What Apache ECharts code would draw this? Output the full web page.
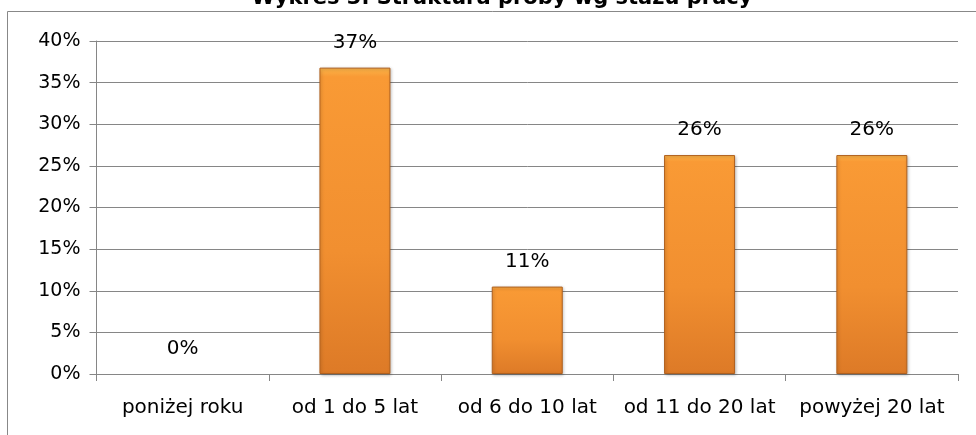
<!DOCTYPE html>
<html>
<head>
<meta charset="utf-8">
<script src="https://cdn.jsdelivr.net/npm/echarts@6/dist/echarts.min.js"></script>
<style>
html,body{margin:0;padding:0;background:#fff;}
#chart{width:976px;height:435px;}
</style>
</head>
<body>
<div id="chart"></div>
<script>
var titleText = 'Wykres 3. Struktura próby wg stażu pracy';
var categories = ['poniżej roku', 'od 1 do 5 lat', 'od 6 do 10 lat', 'od 11 do 20 lat', 'powyżej 20 lat'];
var values = [0, 0.368, 0.105, 0.263, 0.263];
var yTicks = { min: 0, max: 0.4, interval: 0.05 };

var chart = echarts.init(document.getElementById('chart'));
var pct = function (v) { return Math.round(v * 100) + '%'; };
var barData = values.map(function (v) {
  return v === 0 ? { value: v, itemStyle: { color: 'rgba(0,0,0,0)', borderWidth: 0, shadowBlur: 0, shadowColor: 'rgba(0,0,0,0)' } } : v;
});
var option = {
  animation: false,
  backgroundColor: '#ffffff',
  graphic: [
    { type: 'rect', shape: { x: 7.5, y: 11.5, width: 1200, height: 600 },
      style: { fill: 'none', stroke: '#888888', lineWidth: 1 }, z: -1 },
    { type: 'text', x: 502, y: 9,
      style: { text: titleText, fill: '#000', font: 'bold 21px "DejaVu Sans"',
               textAlign: 'center', textVerticalAlign: 'bottom' } }
  ],
  grid: { left: 96.5, right: 18, top: 41, bottom: 61, containLabel: false },
  xAxis: {
    type: 'category',
    data: categories,
    boundaryGap: true,
    axisLine: { show: true, lineStyle: { color: '#868686', width: 1 } },
    axisTick: { show: true, length: 7, alignWithLabel: false, lineStyle: { color: '#868686' } },
    axisLabel: { color: '#000', fontFamily: 'DejaVu Sans', fontSize: 20, margin: 24, interval: 0 }
  },
  yAxis: {
    type: 'value',
    min: yTicks.min, max: yTicks.max, interval: yTicks.interval,
    axisLine: { show: true, lineStyle: { color: '#868686', width: 1 } },
    axisTick: { show: true, length: 7, lineStyle: { color: '#868686' } },
    axisLabel: { color: '#000', fontFamily: 'DejaVu Sans', fontSize: 19, margin: 16, formatter: pct },
    splitLine: { show: true, lineStyle: { color: '#868686', width: 1 } }
  },
  series: [{
    type: 'bar',
    data: barData,
    barWidth: 71,
    itemStyle: {
      color: new echarts.graphic.LinearGradient(0, 0, 0, 1, [
        { offset: 0, color: '#FBB54A' },
        { offset: 0.03, color: '#F99A35' },
        { offset: 0.6, color: '#F18F30' },
        { offset: 1, color: '#DD7A27' }
      ]),
      borderColor: '#B0601E',
      borderWidth: 1,
      shadowColor: 'rgba(0,0,0,0.25)',
      shadowBlur: 3,
      shadowOffsetX: 1,
      shadowOffsetY: 1
    },
    label: {
      show: true, position: 'top', distance: 15,
      color: '#000', fontFamily: 'DejaVu Sans', fontSize: 20,
      formatter: function (p) { return pct(p.value); }
    }
  }]
};
chart.setOption(option);
</script>
</body>
</html>
